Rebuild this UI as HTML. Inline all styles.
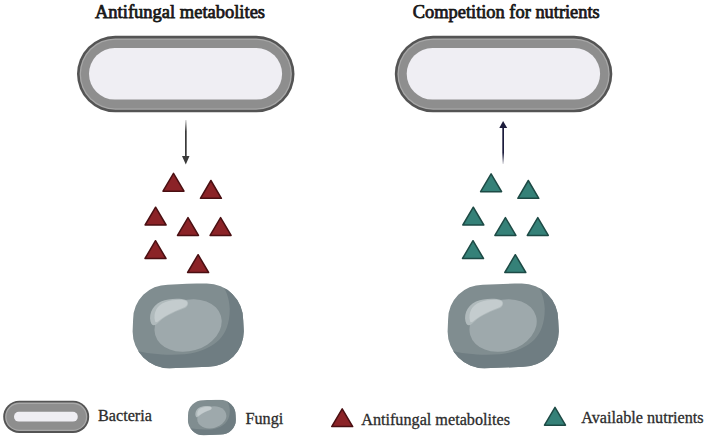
<!DOCTYPE html>
<html><head><meta charset="utf-8">
<style>
html,body{margin:0;padding:0;background:#fff;width:708px;height:437px;overflow:hidden}
svg{display:block}
text{font-family:"Liberation Serif",serif;fill:#1a1a1a}
.lg{fill:#2c2c2c;stroke:#2c2c2c;stroke-width:0.3}
</style></head>
<body>
<svg width="708" height="437" viewBox="0 0 708 437">
<defs>
  <clipPath id="fclip"><path d="M0.1 35.4 A34.7 34.7 0 0 1 34.8 0.7 C48 0.1 60 -0.5 73.8 -0.5 A36.4 36.4 0 0 1 110.2 35.9 L110.8 47.3 A35.5 35.5 0 0 1 75.3 82.8 L36.4 84.3 A36.8 36.8 0 0 1 -0.4 47.5 Z"/></clipPath>
  <g id="fungi">
    <g clip-path="url(#fclip)">
      <rect x="-2" y="-2" width="115" height="88" fill="#808d90"/>
      <path d="M84 -5 C92 3 96 12 96.7 24 C97 38 93 49 86 56 C79 62 72 66 62 68.5 C48 72 20 71.5 0 66 L-5 65 L-5 90 L120 90 L120 -5 Z" fill="#6f7d82"/>
    </g>
    <ellipse cx="55.1" cy="41.5" rx="34.2" ry="25.6" fill="#9ea9ac" transform="rotate(-16 55.1 41.5)"/>
    <path d="M18.5 40 C15 33 18 22 28 17.5 C36 14 48 14 53 16 C56 17.5 56 22 52 24 C44 27 34 31 27 37 C24 40 21 43 18.5 40 Z" fill="#b0babc"/>
    <path d="M22 37 C20 29 24 21 32 18.3 C40 15.5 49 15.3 52.8 16.8 C55.3 18 55 21.5 51.5 23.3 C43.5 26.5 33.5 30.5 26.5 36.3 C24.5 38 22.5 39.5 22 37 Z" fill="#c4ccce"/>
  </g>
  <linearGradient id="gdown" x1="0" y1="0" x2="0" y2="1"><stop offset="0" stop-color="#3a3a3a" stop-opacity="0.15"/><stop offset="0.3" stop-color="#3a3a3a" stop-opacity="1"/><stop offset="1" stop-color="#3a3a3a"/></linearGradient>
  <linearGradient id="gup" x1="0" y1="0" x2="0" y2="1"><stop offset="0" stop-color="#1c1c3c"/><stop offset="0.7" stop-color="#1c1c3c" stop-opacity="1"/><stop offset="1" stop-color="#1c1c3c" stop-opacity="0.1"/></linearGradient>
  <path id="tri" d="M0 -8.8 L10.5 9 L-10.5 9 Z"/>
</defs>

<text x="95" y="17.6" font-size="18.5" fill="#161616" stroke="#161616" stroke-width="0.75">Antifungal metabolites</text>
<text x="412.8" y="17.6" font-size="18.4" fill="#161616" stroke="#161616" stroke-width="0.75">Competition for nutrients</text>

<!-- bacteria left -->
<g>
  <rect x="77" y="35.8" width="217.5" height="76.5" rx="38.25" fill="#545454"/>
  <rect x="79.6" y="38.4" width="212.3" height="71.3" rx="35.65" fill="#a8a8a8"/>
  <rect x="80.9" y="39.7" width="209.7" height="68.7" rx="34.35" fill="#8e8e8e"/>
  <rect x="89" y="48" width="193.1" height="51.6" rx="25.8" fill="#efeef3"/>
</g>
<!-- bacteria right -->
<g>
  <rect x="394.8" y="35.8" width="217.5" height="76.5" rx="38.25" fill="#545454"/>
  <rect x="397.4" y="38.4" width="212.3" height="71.3" rx="35.65" fill="#a8a8a8"/>
  <rect x="398.7" y="39.7" width="209.7" height="68.7" rx="34.35" fill="#8e8e8e"/>
  <rect x="406.7" y="48" width="193.4" height="51.6" rx="25.8" fill="#efeef3"/>
</g>

<!-- arrows -->
<rect x="185" y="120" width="1.7" height="38" fill="url(#gdown)"/>
<path d="M182 156 L189.5 156 L185.8 164.5 Z" fill="#3a3a3a"/>
<rect x="502.3" y="126" width="1.7" height="38" fill="url(#gup)"/>
<path d="M499.3 128 L507.2 128 L503.1 121 Z" fill="#1c1c3c"/>

<!-- red triangles -->
<g fill="#8b2327" stroke="#4a0f12" stroke-width="1.5" stroke-linejoin="round">
  <use href="#tri" x="173.5" y="182.2"/>
  <use href="#tri" x="210.9" y="189.3"/>
  <use href="#tri" x="155.6" y="216"/>
  <use href="#tri" x="188" y="226.4"/>
  <use href="#tri" x="220.6" y="226.4"/>
  <use href="#tri" x="155.5" y="249.5"/>
  <use href="#tri" x="198.1" y="263.5"/>
</g>
<!-- teal triangles -->
<g fill="#358178" stroke="#1d4a45" stroke-width="1.5" stroke-linejoin="round">
  <use href="#tri" x="491.1" y="182.7"/>
  <use href="#tri" x="528.3" y="189.3"/>
  <use href="#tri" x="473.3" y="216"/>
  <use href="#tri" x="505.4" y="226.4"/>
  <use href="#tri" x="537.8" y="226.4"/>
  <use href="#tri" x="473" y="249.5"/>
  <use href="#tri" x="515.3" y="263.5"/>
</g>

<!-- fungi -->
<use href="#fungi" transform="translate(133,284)"/>
<use href="#fungi" transform="translate(448,284)"/>

<!-- legend -->
<g>
  <rect x="3.2" y="400.7" width="86" height="32.2" rx="16.1" fill="#545454"/>
  <rect x="5.1" y="402.6" width="82.2" height="28.4" rx="14.2" fill="#a8a8a8"/>
  <rect x="6.4" y="403.9" width="79.6" height="25.8" rx="12.9" fill="#8e8e8e"/>
  <rect x="14" y="411.8" width="63.8" height="9.8" rx="4.9" fill="#efeef3"/>
</g>
<text x="98" y="420.8" font-size="16.2" class="lg">Bacteria</text>
<use href="#fungi" transform="translate(188,400) scale(0.432,0.418)"/>
<text x="245.5" y="424" font-size="16.2" class="lg">Fungi</text>
<use href="#tri" x="342.2" y="417.6" fill="#8b2327" stroke="#4a0f12" stroke-width="1.5" stroke-linejoin="round"/>
<text x="361.2" y="424.6" font-size="16.2" class="lg">Antifungal metabolites</text>
<use href="#tri" x="555" y="416.2" fill="#358178" stroke="#1d4a45" stroke-width="1.5" stroke-linejoin="round"/>
<text x="581.2" y="423" font-size="16.2" class="lg">Available nutrients</text>
</svg>
</body></html>
